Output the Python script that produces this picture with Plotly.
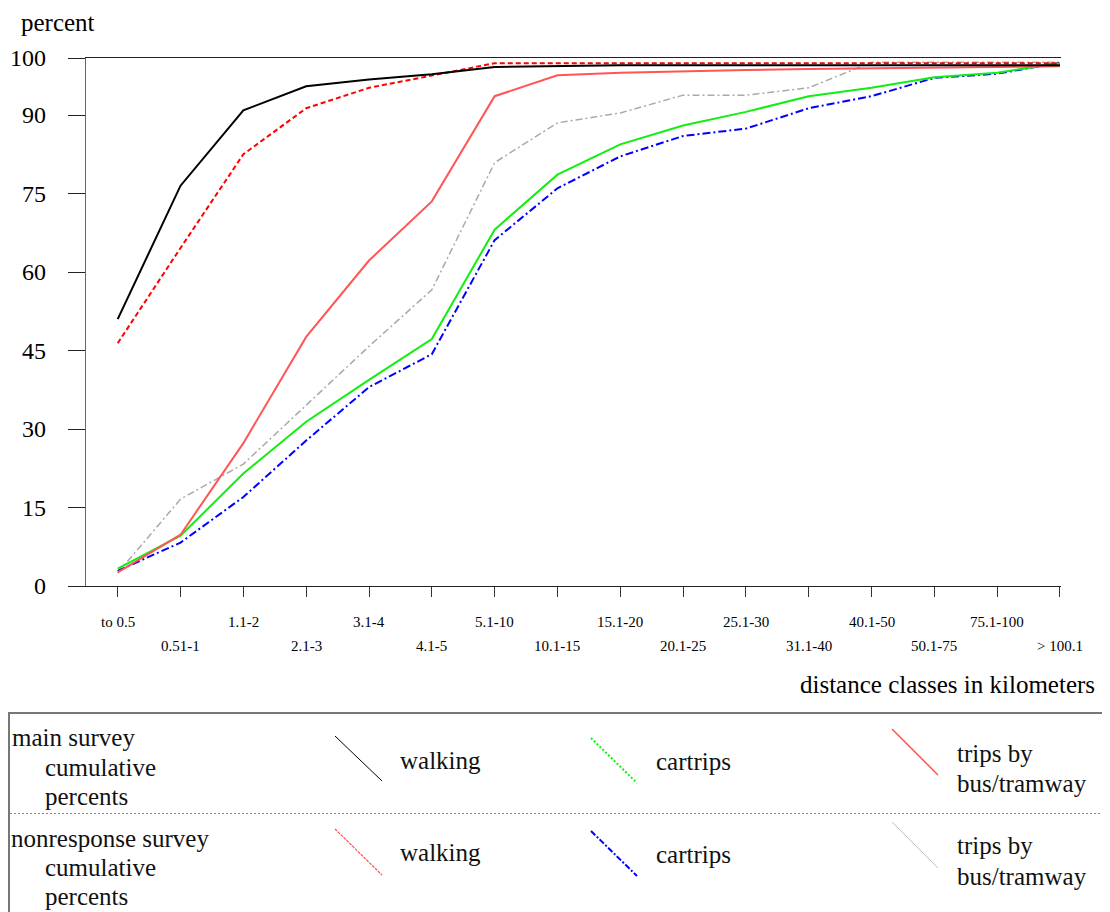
import plotly.graph_objects as go

categories = ["to 0.5", "0.51-1", "1.1-2", "2.1-3", "3.1-4", "4.1-5", "5.1-10", "10.1-15",
              "15.1-20", "20.1-25", "25.1-30", "31.1-40", "40.1-50", "50.1-75", "75.1-100", "> 100.1"]

main_walking = [51.0, 76.5, 90.9, 95.5, 96.8, 97.8, 99.2, 99.4, 99.5, 99.5, 99.5, 99.5, 99.5, 99.5, 99.5, 99.5]
main_car = [3.3, 9.6, 21.5, 31.4, 39.4, 47.2, 68.1, 78.6, 84.4, 88.0, 90.6, 93.6, 95.2, 97.2, 98.1, 99.9]
main_bus = [2.6, 9.8, 27.3, 47.6, 62.2, 73.5, 93.6, 97.6, 98.1, 98.4, 98.6, 98.8, 98.9, 99.0, 99.1, 99.3]

nonresp_walking = [46.4, 64.6, 82.5, 91.3, 95.2, 97.6, 99.9, 99.9, 99.9, 99.9, 99.9, 99.9, 99.9, 99.9, 99.9, 99.9]
nonresp_car = [2.9, 8.3, 17.0, 27.8, 38.0, 44.3, 66.1, 76.0, 82.1, 86.0, 87.4, 91.3, 93.6, 97.1, 97.9, 100.0]
nonresp_bus = [2.5, 16.6, 23.3, 34.6, 45.8, 56.6, 80.9, 88.5, 90.4, 93.8, 93.8, 95.2, 100.1, 100.1, 100.1, 100.1]

y_ticks = [0, 15, 30, 45, 60, 75, 90, 100.9]
y_ticktext = ["0", "15", "30", "45", "60", "75", "90", "100"]

FONT = "Liberation Serif, Times New Roman, serif"
W, H = 1110, 912
# page body margin offset (the figure div starts 8px in)
OFF = 8
# plot area in screen pixels
L, R, T, B = 86, 1061, 58, 586


def px(x):
    return (x - L) / (R - L)


def py(y):
    return (B - y) / (B - T)


xs = list(range(len(categories)))
fig = go.Figure()

series = [
    (nonresp_bus, "#aaaaaa", 1.5, "7px,3px,2px,3px"),
    (nonresp_car, "#0000ff", 2, "8px,3px,2px,3px"),
    (main_car, "#11ee11", 2, "solid"),
    (main_bus, "#ff5555", 2, "solid"),
    (nonresp_walking, "#ff0000", 2, "5px,3px"),
    (main_walking, "#000000", 2, "solid"),
]
for vals, col, w, dash in series:
    fig.add_trace(go.Scatter(x=xs, y=vals, mode="lines",
                             line=dict(color=col, width=w, dash=dash),
                             showlegend=False, hoverinfo="skip"))

annotations = []
# x tick labels (alternating rows)
for i, c in enumerate(categories):
    yy = 621.5 if i % 2 == 0 else 645.5
    annotations.append(dict(x=i, xref="x", y=py(yy), yref="paper", text=c, showarrow=False,
                            xanchor="center", yanchor="middle",
                            font=dict(family=FONT, size=15, color="#000")))

PAD = 2.5
annotations.append(dict(x=px(21 - PAD), xref="paper", y=py(22), yref="paper", text="percent",
                        showarrow=False, xanchor="left", yanchor="middle",
                        font=dict(family=FONT, size=25, color="#000")))
annotations.append(dict(x=px(1094 + PAD), xref="paper", y=py(684), yref="paper",
                        text="distance classes in kilometers", showarrow=False,
                        xanchor="right", yanchor="middle",
                        font=dict(family=FONT, size=25, color="#000")))

# legend texts
leg_texts = [
    ("main survey", 12.5, 737), ("cumulative", 45, 767), ("percents", 45, 796),
    ("nonresponse survey", 11, 838), ("cumulative", 45, 867), ("percents", 45, 897),
    ("walking", 400, 760), ("walking", 400, 852),
    ("cartrips", 656, 761), ("cartrips", 656, 854),
    ("trips by", 957, 753), ("bus/tramway", 957, 783),
    ("trips by", 957, 845), ("bus/tramway", 957, 876),
]
for t, x, y in leg_texts:
    annotations.append(dict(x=px(x - PAD), xref="paper", y=py(y), yref="paper", text=t,
                            showarrow=False, xanchor="left", yanchor="middle",
                            font=dict(family=FONT, size=25, color="#111")))

shapes = []
# legend box
shapes.append(dict(type="rect", xref="paper", yref="paper", x0=px(9), x1=px(1125),
                   y0=py(713), y1=py(930), line=dict(color="#777", width=2)))
shapes.append(dict(type="line", xref="paper", yref="paper", x0=px(10), x1=px(1110),
                   y0=py(813.5), y1=py(813.5), line=dict(color="#888", width=1, dash="2px,2px")))
# legend sample lines
samples = [
    (335, 736, 382, 781, "#000000", 1, "solid"),
    (591, 738, 637, 783, "#11ee11", 2, "2px,2px"),
    (892, 729, 938, 775, "#ff5555", 1.5, "solid"),
    (335, 829, 382, 875, "#ff5050", 1.2, "3px,1px"),
    (591, 831, 637, 876, "#0000ff", 2, "6px,2px,2px,2px"),
    (892, 822, 938, 868, "#c0c0c0", 1, "solid"),
]
for x0, y0, x1, y1, col, w, dash in samples:
    shapes.append(dict(type="line", xref="paper", yref="paper", x0=px(x0), y0=py(y0),
                       x1=px(x1), y1=py(y1), line=dict(color=col, width=w, dash=dash)))

fig.update_layout(
    width=W, height=H,
    margin=dict(l=L - OFF, r=W - (R - OFF), t=T - OFF, b=H - (B - OFF), pad=0),
    paper_bgcolor="white", plot_bgcolor="white",
    showlegend=False,
    xaxis=dict(range=[-0.505, 15.016], tickmode="array", tickvals=xs, ticktext=[""] * len(xs),
               showticklabels=False, ticks="outside", ticklen=10, tickcolor="#333", tickwidth=1,
               showline=True, linecolor="#222", linewidth=1.3, mirror=True, automargin=False,
               showgrid=False, zeroline=False, fixedrange=True),
    yaxis=dict(range=[0, 100.9], tickmode="array", tickvals=y_ticks, ticktext=y_ticktext,
               ticks="outside", ticklen=17, tickcolor="#222", tickwidth=1.3,
               showline=True, linecolor="#666", linewidth=1.3, automargin=False,
               showgrid=False, zeroline=False, ticklabelstandoff=17,
               tickfont=dict(family=FONT, size=24, color="#000"), fixedrange=True),
    annotations=annotations,
    shapes=shapes,
)

fig.write_html("out.html")
